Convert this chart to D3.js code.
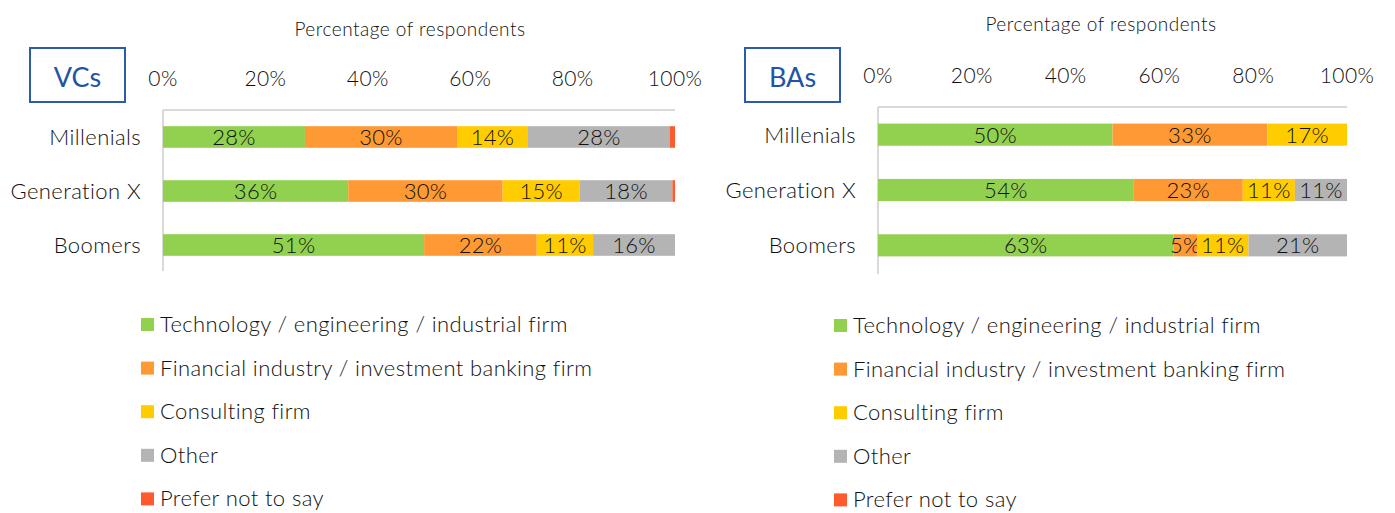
<!DOCTYPE html>
<html>
<head>
<meta charset="utf-8">
<script src="https://cdn.jsdelivr.net/npm/d3@7"></script>
<style>
  html, body { margin: 0; padding: 0; background: #fff; }
  svg { display: block; font-family: Lato, "Open Sans", sans-serif; font-weight: 300; }
</style>
</head>
<body>
<svg id="chart" width="1395" height="513"></svg>
<script>
const width = 1395;
const height = 513;

// data
const groups = ["Millenials", "Generation X", "Boomers"];
const answers = [
  "Technology / engineering / industrial firm",
  "Financial industry / investment banking firm",
  "Consulting firm",
  "Other",
  "Prefer not to say"
];
const colors = ["#92d050", "#ff9933", "#ffcc00", "#b4b4b4", "#ff5a2e"];
const tickValues = [0, 0.2, 0.4, 0.6, 0.8, 1];

// VCs, percent per generation
const vcTech = [28, 36, 51];
const vcFinance = [30, 30, 22];
const vcConsulting = [14, 15, 11];
const vcOther = [28, 18, 16];
const vcPreferNot = [1, 0.5, 0];

// BAs, percent per generation
const baTech = [50, 54, 63];
const baFinance = [33, 23, 5];
const baConsulting = [17, 11, 11];
const baOther = [0, 11, 21];
const baPreferNot = [0, 0, 0];

const svg = d3.select("#chart");
const color = d3.scaleOrdinal().domain(answers).range(colors);
const ink = "#111";

function buildRows(series) {
  return groups.map((g, i) => {
    const row = { group: g };
    answers.forEach((a, j) => { row[a] = series[j][i]; });
    return row;
  });
}

function drawPanel(opts) {
  const rows = buildRows(opts.series);
  const stack = d3.stack().keys(answers).offset(d3.stackOffsetExpand);
  const layers = stack(rows);

  const x = d3.scaleLinear().domain([0, 1]).range([opts.x0, opts.x1]);
  const y = d3.scaleBand()
    .domain(groups)
    .range([opts.top, opts.bottom])
    .paddingInner(0.6)
    .paddingOuter(0.3);

  const g = svg.append("g");

  // title
  g.append("text")
    .attr("x", opts.titleX)
    .attr("y", opts.titleY)
    .attr("text-anchor", "middle")
    .attr("fill", ink)
    .style("font-size", "19px")
    .style("letter-spacing", "0.5px")
    .text("Percentage of respondents");

  // boxed label
  g.append("rect")
    .attr("x", opts.boxX)
    .attr("y", 48)
    .attr("width", 95)
    .attr("height", 54)
    .attr("fill", "none")
    .attr("stroke", "#2a5caa")
    .attr("stroke-width", 2);
  g.append("text")
    .attr("x", opts.boxX + 47.5)
    .attr("y", 87)
    .attr("text-anchor", "middle")
    .attr("fill", "#1f54a6")
    .style("font-size", "27px")
    .style("font-weight", 400)
    .text(opts.label);

  // tick labels on top
  g.selectAll(".tick-label")
    .data(tickValues)
    .enter()
    .append("text")
    .attr("class", "tick-label")
    .attr("x", d => x(d))
    .attr("y", opts.tickY)
    .attr("text-anchor", "middle")
    .attr("fill", ink)
    .style("font-size", "21px")
    .style("letter-spacing", "0.4px")
    .text(d3.format(".0%"));

  // axis lines
  g.append("line")
    .attr("x1", opts.x0).attr("x2", opts.x1)
    .attr("y1", opts.top).attr("y2", opts.top)
    .attr("stroke", "#d9d9d9").attr("stroke-width", 2);
  g.append("line")
    .attr("x1", opts.x0).attr("x2", opts.x0)
    .attr("y1", opts.top).attr("y2", opts.axisEnd)
    .attr("stroke", "#d9d9d9").attr("stroke-width", 2);

  // category labels
  g.selectAll(".cat")
    .data(groups)
    .enter()
    .append("text")
    .attr("class", "cat")
    .attr("x", opts.x0 - 22)
    .attr("y", d => y(d) + y.bandwidth() / 2 + 8)
    .attr("text-anchor", "end")
    .attr("fill", ink)
    .style("font-size", "22px")
    .style("letter-spacing", "0.4px")
    .text(d => d);

  // bars
  const layer = g.selectAll(".layer")
    .data(layers)
    .enter()
    .append("g")
    .attr("fill", d => color(d.key));

  layer.selectAll("rect")
    .data(d => d)
    .enter()
    .append("rect")
    .attr("x", d => x(d[0]))
    .attr("y", d => y(d.data.group))
    .attr("width", d => x(d[1]) - x(d[0]))
    .attr("height", y.bandwidth());

  // value labels
  layer.selectAll("text")
    .data(d => d.map(p => ({ p, key: d.key })))
    .enter()
    .filter(d => d.p.data[d.key] >= 3)
    .append("text")
    .attr("x", d => (x(d.p[0]) + x(d.p[1])) / 2)
    .attr("y", d => y(d.p.data.group) + y.bandwidth() / 2 + 8)
    .attr("text-anchor", "middle")
    .attr("fill", ink)
    .style("font-size", "22px")
    .style("letter-spacing", "0.3px")
    .text(d => d.p.data[d.key] + "%");

  // legend
  const legend = g.selectAll(".legend")
    .data(answers)
    .enter()
    .append("g")
    .attr("transform", (d, i) => `translate(${opts.legendX}, ${opts.legendY + i * 43.6})`);

  legend.append("rect")
    .attr("x", 0)
    .attr("y", -7)
    .attr("width", 13)
    .attr("height", 13)
    .attr("fill", d => color(d));

  legend.append("text")
    .attr("x", 19)
    .attr("y", 7)
    .attr("fill", ink)
    .style("font-size", "22px")
    .style("letter-spacing", "0.4px")
    .text(d => d);
}

drawPanel({
  label: "VCs",
  series: [vcTech, vcFinance, vcConsulting, vcOther, vcPreferNot],
  x0: 163, x1: 675, top: 110, bottom: 272, axisEnd: 271,
  titleX: 410, titleY: 36, tickY: 86, boxX: 30,
  legendX: 141, legendY: 325
});

drawPanel({
  label: "BAs",
  series: [baTech, baFinance, baConsulting, baOther, baPreferNot],
  x0: 878, x1: 1347, top: 107, bottom: 273, axisEnd: 274,
  titleX: 1101, titleY: 31, tickY: 83, boxX: 745,
  legendX: 834, legendY: 326
});
</script>
</body>
</html>
